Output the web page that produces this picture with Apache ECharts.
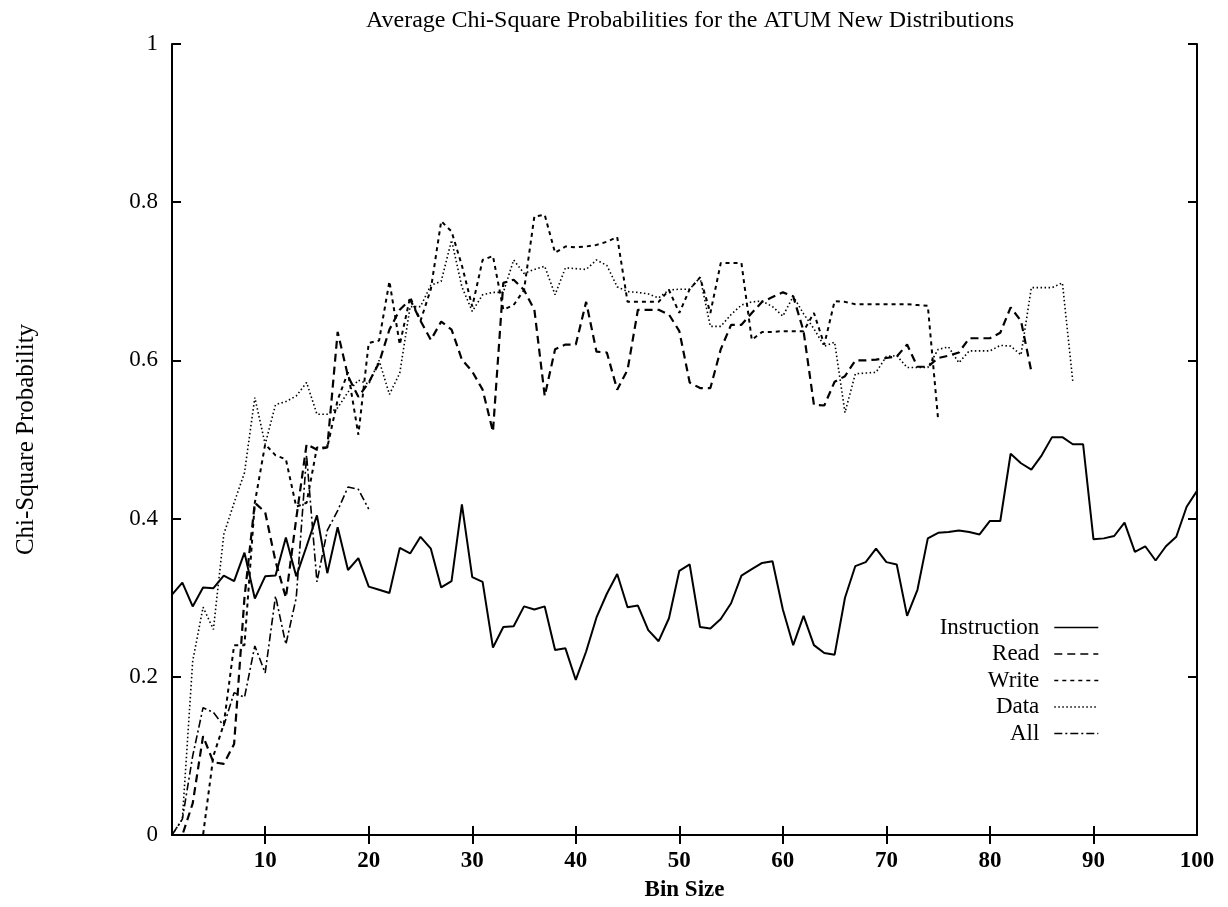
<!DOCTYPE html>
<html>
<head>
<meta charset="utf-8">
<script src="https://cdn.jsdelivr.net/npm/echarts@6/dist/echarts.min.js"></script>
<style>
html,body{margin:0;padding:0;background:#fff;}
#chart{width:1228px;height:907px;}
</style>
</head>
<body>
<div id="chart"></div>
<script>
// Bin sizes start at 1
const instruction = [0.304,0.319,0.289,0.313,0.312,0.328,0.321,0.357,0.299,0.327,0.328,0.376,0.327,0.365,0.404,0.331,0.389,0.335,0.350,0.314,0.310,0.306,0.363,0.356,0.377,0.362,0.313,0.321,0.418,0.326,0.320,0.237,0.263,0.264,0.289,0.285,0.289,0.234,0.236,0.196,0.232,0.275,0.305,0.330,0.288,0.290,0.259,0.245,0.274,0.334,0.342,0.263,0.261,0.273,0.293,0.328,0.336,0.344,0.346,0.285,0.240,0.277,0.240,0.230,0.228,0.300,0.340,0.345,0.362,0.345,0.342,0.277,0.310,0.375,0.382,0.383,0.385,0.383,0.380,0.397,0.397,0.482,0.470,0.462,0.480,0.503,0.503,0.494,0.494,0.374,0.375,0.378,0.395,0.358,0.365,0.347,0.365,0.377,0.415,0.435];
const read = [0.0,0.0,0.04,0.125,0.092,0.09,0.115,0.30,0.42,0.408,0.346,0.30,0.40,0.494,0.487,0.49,0.636,0.58,0.554,0.572,0.597,0.639,0.664,0.677,0.65,0.626,0.649,0.639,0.601,0.586,0.563,0.51,0.698,0.702,0.689,0.664,0.555,0.614,0.62,0.62,0.674,0.611,0.61,0.563,0.588,0.664,0.664,0.664,0.658,0.637,0.572,0.565,0.565,0.614,0.645,0.645,0.66,0.674,0.68,0.686,0.681,0.637,0.544,0.543,0.573,0.58,0.60,0.60,0.601,0.603,0.605,0.62,0.592,0.592,0.603,0.606,0.61,0.628,0.628,0.628,0.635,0.667,0.65,0.586];
const write = [0.0,0.0,0.0,0.0,0.10,0.14,0.24,0.24,0.42,0.494,0.48,0.475,0.415,0.42,0.49,0.49,0.55,0.585,0.506,0.622,0.625,0.70,0.62,0.68,0.65,0.69,0.776,0.763,0.72,0.668,0.727,0.732,0.664,0.67,0.689,0.782,0.784,0.736,0.744,0.743,0.744,0.746,0.75,0.756,0.674,0.674,0.674,0.674,0.689,0.66,0.69,0.705,0.66,0.723,0.723,0.723,0.626,0.636,0.636,0.637,0.637,0.637,0.66,0.62,0.675,0.674,0.671,0.671,0.671,0.671,0.671,0.671,0.67,0.669,0.525];
const data = [0.0,0.02,0.22,0.288,0.26,0.38,0.42,0.458,0.553,0.494,0.544,0.548,0.555,0.572,0.532,0.532,0.54,0.56,0.575,0.57,0.60,0.557,0.584,0.668,0.668,0.695,0.70,0.752,0.693,0.662,0.683,0.686,0.686,0.727,0.71,0.715,0.719,0.683,0.717,0.716,0.715,0.727,0.72,0.693,0.687,0.686,0.684,0.679,0.689,0.69,0.69,0.705,0.643,0.643,0.658,0.67,0.674,0.675,0.668,0.656,0.681,0.659,0.64,0.618,0.623,0.534,0.583,0.584,0.585,0.605,0.606,0.591,0.591,0.591,0.614,0.617,0.597,0.612,0.612,0.612,0.619,0.618,0.607,0.692,0.692,0.692,0.698,0.574];
const all = [0.0,0.02,0.10,0.161,0.155,0.138,0.18,0.174,0.239,0.205,0.302,0.241,0.30,0.48,0.32,0.385,0.41,0.44,0.437,0.412];

const seriesNames = ['Instruction','Read','Write','Data','All'];
const xTickValues = [10,20,30,40,50,60,70,80,90];
const xLabelValues = [10,20,30,40,50,60,70,80,90,100];
const yTickLabels = ['0','0.2','0.4','0.6','0.8','1'];

const toPairs = arr => arr.map((v,i)=>[i+1,v]);
const FONT = 'Liberation Serif';

const chart = echarts.init(document.getElementById('chart'), null, {renderer:'canvas'});
const axisLine = {show:true, lineStyle:{color:'#000', width:2}};
const styles = [
  {type:'solid', width:2},
  {type:[8,5], width:2.2},
  {type:[4,4], width:2},
  {type:[1.5,2.5], width:1.6},
  {type:[8,3,2,3], width:1.6}
];
const arrays = [instruction, read, write, data, all];

chart.setOption({
  backgroundColor:'#fff',
  animation:false,
  title:{
    text:'Average Chi-Square Probabilities for the ATUM New Distributions',
    left:685, top:4, textAlign:'center',
    textStyle:{fontFamily:FONT, fontSize:24, fontWeight:'normal', color:'#000'}
  },
  legend:{
    orient:'vertical', align:'right', right:124, top:611,
    itemWidth:44, itemHeight:14, itemGap:3.5,
    data:seriesNames,
    textStyle:{fontFamily:FONT, fontSize:23, color:'#000', padding:[0,10,0,0]},
    itemStyle:{color:'rgba(0,0,0,0)', borderWidth:0, opacity:0},
    lineStyle:{width:1.4},
    inactiveColor:'#000'
  },
  grid:{left:172, right:31, top:44, bottom:71, containLabel:false},
  xAxis:[{
    type:'value', min:1, max:100,
    name:'Bin Size', nameLocation:'middle', nameGap:44,
    nameTextStyle:{fontFamily:FONT, fontSize:23, fontWeight:'bold', color:'#000'},
    axisLine:axisLine,
    axisTick:{show:true, inside:true, length:9, lineStyle:{color:'#000', width:2}, customValues:xTickValues},
    axisLabel:{fontFamily:FONT, fontSize:23, fontWeight:'bold', color:'#000', margin:15, customValues:xLabelValues},
    splitLine:{show:false}
  },{
    type:'value', min:1, max:100, position:'top',
    axisLine:axisLine,
    axisTick:{show:true, inside:true, length:9, lineStyle:{color:'#000', width:2}, customValues:xTickValues},
    axisLabel:{show:false},
    splitLine:{show:false}
  }],
  yAxis:[{
    type:'value', min:0, max:1, interval:0.2,
    name:'Chi-Square Probability', nameLocation:'middle', nameGap:133, nameRotate:90,
    nameTextStyle:{fontFamily:FONT, fontSize:25, color:'#000'},
    axisLine:axisLine,
    axisTick:{show:true, inside:true, length:9, lineStyle:{color:'#000', width:2}},
    axisLabel:{fontFamily:FONT, fontSize:23, color:'#000', margin:14,
      formatter:(v)=>yTickLabels[Math.round(v/0.2)]},
    splitLine:{show:false}
  },{
    type:'value', min:0, max:1, interval:0.2, position:'right',
    axisLine:axisLine,
    axisTick:{show:true, inside:true, length:9, lineStyle:{color:'#000', width:2}},
    axisLabel:{show:false},
    splitLine:{show:false}
  }],
  series: seriesNames.map((n,i)=>({
    name:n, type:'line', data:toPairs(arrays[i]),
    symbol:'none', smooth:false,
    xAxisIndex:0, yAxisIndex:0,
    lineStyle:{color:'#000', width:styles[i].width, type:styles[i].type},
    itemStyle:{color:'#000'}
  }))
});
</script>
</body>
</html>
